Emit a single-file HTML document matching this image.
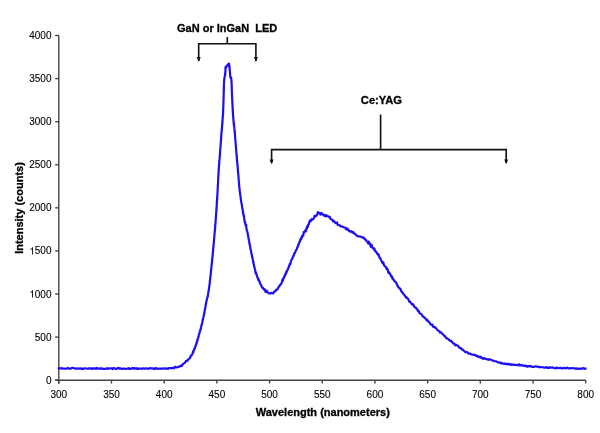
<!DOCTYPE html>
<html><head><meta charset="utf-8"><style>
html,body{margin:0;padding:0;background:#fff;}
body{width:600px;height:433px;overflow:hidden;}
svg{display:block;will-change:transform;}
text{font-family:"Liberation Sans",sans-serif;}
</style></head><body>
<svg width="600" height="433" viewBox="0 0 600 433">
<rect width="600" height="433" fill="#fff"/>
<g stroke="#444" stroke-width="1.4" fill="none">
<line x1="58.8" y1="35.5" x2="58.8" y2="383.5"/>
<line x1="55.2" y1="380.2" x2="585.7" y2="380.2"/>
<line x1="58.80" y1="380.20" x2="58.80" y2="383.5"/><line x1="111.49" y1="380.20" x2="111.49" y2="383.5"/><line x1="164.18" y1="380.20" x2="164.18" y2="383.5"/><line x1="216.87" y1="380.20" x2="216.87" y2="383.5"/><line x1="269.56" y1="380.20" x2="269.56" y2="383.5"/><line x1="322.25" y1="380.20" x2="322.25" y2="383.5"/><line x1="374.94" y1="380.20" x2="374.94" y2="383.5"/><line x1="427.63" y1="380.20" x2="427.63" y2="383.5"/><line x1="480.32" y1="380.20" x2="480.32" y2="383.5"/><line x1="533.01" y1="380.20" x2="533.01" y2="383.5"/><line x1="585.70" y1="380.20" x2="585.70" y2="383.5"/><line x1="55.2" y1="380.20" x2="58.80" y2="380.20"/><line x1="55.2" y1="337.11" x2="58.80" y2="337.11"/><line x1="55.2" y1="294.02" x2="58.80" y2="294.02"/><line x1="55.2" y1="250.94" x2="58.80" y2="250.94"/><line x1="55.2" y1="207.85" x2="58.80" y2="207.85"/><line x1="55.2" y1="164.76" x2="58.80" y2="164.76"/><line x1="55.2" y1="121.68" x2="58.80" y2="121.68"/><line x1="55.2" y1="78.59" x2="58.80" y2="78.59"/><line x1="55.2" y1="35.50" x2="58.80" y2="35.50"/>
</g>
<g font-size="10" fill="#000" stroke="#000" stroke-width="0.1">
<text transform="translate(58.80,397.8)" text-anchor="middle">300</text><text transform="translate(111.49,397.8)" text-anchor="middle">350</text><text transform="translate(164.18,397.8)" text-anchor="middle">400</text><text transform="translate(216.87,397.8)" text-anchor="middle">450</text><text transform="translate(269.56,397.8)" text-anchor="middle">500</text><text transform="translate(322.25,397.8)" text-anchor="middle">550</text><text transform="translate(374.94,397.8)" text-anchor="middle">600</text><text transform="translate(427.63,397.8)" text-anchor="middle">650</text><text transform="translate(480.32,397.8)" text-anchor="middle">700</text><text transform="translate(533.01,397.8)" text-anchor="middle">750</text><text transform="translate(585.70,397.8)" text-anchor="middle">800</text><text transform="translate(51.5,383.70)" text-anchor="end">0</text><text transform="translate(51.5,340.61)" text-anchor="end">500</text><text transform="translate(51.5,297.52)" text-anchor="end">000</text><path transform="translate(29.26,297.52) scale(0.004883,-0.004883)" d="M763 0H583V1147Q518 1085 412 1023Q307 961 223 930V1104Q374 1175 487 1276Q600 1377 647 1472H763Z" stroke="none"/><text transform="translate(51.5,254.44)" text-anchor="end">500</text><path transform="translate(29.26,254.44) scale(0.004883,-0.004883)" d="M763 0H583V1147Q518 1085 412 1023Q307 961 223 930V1104Q374 1175 487 1276Q600 1377 647 1472H763Z" stroke="none"/><text transform="translate(51.5,211.35)" text-anchor="end">2000</text><text transform="translate(51.5,168.26)" text-anchor="end">2500</text><text transform="translate(51.5,125.18)" text-anchor="end">3000</text><text transform="translate(51.5,82.09)" text-anchor="end">3500</text><text transform="translate(51.5,39.00)" text-anchor="end">4000</text>
</g>
<text x="322.8" y="415.9" text-anchor="middle" font-size="11" font-weight="bold" fill="#000" stroke="#000" stroke-width="0.3">Wavelength (nanometers)</text>
<text transform="translate(23,208) rotate(-90)" text-anchor="middle" font-size="11" font-weight="bold" fill="#000" stroke="#000" stroke-width="0.3">Intensity (counts)</text>
<path d="M58.70 368.40 L59.14 368.33 L59.64 368.56 L60.20 368.34 L60.82 368.32 L61.48 368.14 L62.19 368.35 L62.94 368.75 L63.73 368.55 L64.55 368.74 L65.40 368.51 L66.28 368.55 L67.18 368.49 L68.10 367.95 L69.03 368.70 L69.98 368.60 L70.93 368.61 L71.89 367.96 L72.84 367.95 L73.79 368.21 L74.74 368.34 L75.67 368.57 L76.58 368.47 L77.48 368.64 L78.35 368.30 L79.19 368.59 L80.00 368.62 L80.82 368.31 L81.64 369.02 L82.46 368.68 L83.27 368.87 L84.08 368.34 L84.89 368.31 L85.69 368.43 L86.50 368.50 L87.30 368.73 L88.09 368.62 L88.89 368.42 L89.68 368.27 L90.48 368.40 L91.27 368.93 L92.06 368.33 L92.85 368.64 L93.65 368.70 L94.44 368.14 L95.23 368.60 L96.02 368.97 L96.81 367.99 L97.61 368.50 L98.40 368.56 L99.20 368.36 L100.00 368.75 L100.80 368.58 L101.60 368.17 L102.40 368.85 L103.20 368.81 L104.00 368.89 L104.80 369.04 L105.60 368.72 L106.40 368.65 L107.20 368.23 L108.00 368.79 L108.80 368.43 L109.60 368.48 L110.40 368.24 L111.20 368.33 L112.00 368.45 L112.80 368.99 L113.60 368.01 L114.40 368.18 L115.20 368.68 L116.00 369.04 L116.80 368.78 L117.60 368.04 L118.40 367.86 L119.20 368.71 L120.00 368.38 L120.80 368.27 L121.60 368.89 L122.40 368.92 L123.20 368.64 L124.00 368.66 L124.80 368.71 L125.60 369.05 L126.40 368.76 L127.20 368.72 L128.00 368.73 L128.80 368.09 L129.60 368.93 L130.40 368.83 L131.20 368.70 L132.00 367.95 L132.80 368.34 L133.60 368.78 L134.40 367.99 L135.20 368.46 L136.00 368.82 L136.80 368.12 L137.60 368.99 L138.40 368.67 L139.20 368.46 L140.00 368.60 L140.81 368.69 L141.63 368.53 L142.47 368.84 L143.32 368.30 L144.17 368.38 L145.04 368.81 L145.90 368.51 L146.78 368.24 L147.65 368.79 L148.52 368.94 L149.39 368.38 L150.25 368.10 L151.10 368.47 L151.95 368.47 L152.78 368.43 L153.60 368.94 L154.40 368.21 L155.18 368.89 L155.95 368.14 L156.69 368.28 L157.41 368.70 L158.10 368.85 L158.77 368.77 L159.40 368.61 L160.00 368.54 L161.25 368.53 L162.38 368.64 L163.38 368.40 L164.28 368.51 L165.10 368.57 L165.86 368.37 L166.56 368.57 L167.23 368.48 L167.88 368.88 L168.53 368.34 L169.20 368.07 L170.21 368.02 L171.13 368.07 L171.97 368.28 L172.75 367.82 L173.50 367.95 L174.24 368.28 L175.00 366.83 L175.90 367.10 L176.79 367.33 L177.66 367.18 L178.49 366.91 L179.27 366.46 L180.00 366.50 L180.75 366.00 L181.40 365.31 L182.00 365.75 L182.61 364.58 L183.30 363.72 L183.95 363.37 L184.63 362.81 L185.34 362.32 L186.07 360.86 L186.79 360.95 L187.50 360.74 L188.04 359.43 L188.59 359.17 L189.15 358.85 L189.70 358.13 L190.24 357.64 L190.76 355.83 L191.25 355.58 L191.70 354.88 L192.16 354.44 L192.56 353.84 L192.93 351.71 L193.27 352.29 L193.60 350.55 L193.94 350.47 L194.30 348.75 L194.55 348.71 L194.80 348.44 L195.04 347.29 L195.28 346.75 L195.52 346.28 L195.77 345.30 L196.02 344.43 L196.30 344.22 L196.59 343.11 L196.90 341.58 L197.10 342.15 L197.30 339.94 L197.52 340.07 L197.74 338.87 L197.97 338.29 L198.20 337.75 L198.44 336.77 L198.68 336.13 L198.92 334.42 L199.16 333.60 L199.41 333.64 L199.65 332.13 L199.89 331.26 L200.13 330.22 L200.36 330.52 L200.58 329.46 L200.80 328.93 L200.99 327.14 L201.18 326.78 L201.37 325.51 L201.56 325.55 L201.75 325.12 L201.94 323.23 L202.13 323.50 L202.31 322.45 L202.50 321.12 L202.68 319.51 L202.86 320.21 L203.03 318.73 L203.21 317.69 L203.38 317.35 L203.55 316.56 L203.72 316.27 L203.88 314.35 L204.04 314.57 L204.20 313.98 L204.38 313.09 L204.56 311.44 L204.73 310.30 L204.90 310.24 L205.06 308.93 L205.23 308.07 L205.38 307.82 L205.54 306.16 L205.69 304.35 L205.84 304.43 L205.99 302.91 L206.13 303.39 L206.28 302.37 L206.42 301.16 L206.56 300.71 L206.70 300.41 L206.90 299.10 L207.08 298.92 L207.26 297.54 L207.43 297.45 L207.60 297.06 L207.77 296.49 L207.94 294.66 L208.12 294.64 L208.30 292.33 L208.49 291.60 L208.70 289.81 L208.78 290.76 L208.87 288.99 L208.96 288.96 L209.04 288.18 L209.14 287.56 L209.23 286.53 L209.33 286.19 L209.42 286.20 L209.52 284.50 L209.62 283.93 L209.72 283.33 L209.82 281.86 L209.92 280.44 L210.02 279.93 L210.12 279.90 L210.22 277.59 L210.32 277.26 L210.42 277.22 L210.52 276.23 L210.61 274.94 L210.71 274.49 L210.80 273.30 L210.89 271.73 L210.98 270.69 L211.07 270.38 L211.16 270.43 L211.24 268.86 L211.32 267.93 L211.40 267.28 L211.50 265.96 L211.59 265.86 L211.68 264.44 L211.76 264.47 L211.84 262.19 L211.92 262.90 L211.99 261.61 L212.07 260.16 L212.14 260.91 L212.21 259.63 L212.27 257.81 L212.34 257.84 L212.41 257.76 L212.48 256.59 L212.55 256.53 L212.62 255.73 L212.69 254.88 L212.77 253.86 L212.85 253.57 L212.93 252.29 L213.01 251.24 L213.10 248.81 L213.16 249.84 L213.22 249.38 L213.29 247.75 L213.35 246.93 L213.42 247.59 L213.49 244.71 L213.56 245.24 L213.63 245.60 L213.70 242.88 L213.77 243.03 L213.84 242.93 L213.91 240.95 L213.99 240.53 L214.06 239.92 L214.13 238.03 L214.21 237.68 L214.28 237.07 L214.35 236.54 L214.43 235.20 L214.50 234.26 L214.58 232.92 L214.65 232.47 L214.72 232.37 L214.79 231.06 L214.86 229.65 L214.93 228.82 L215.00 230.09 L215.07 228.35 L215.14 227.22 L215.21 224.44 L215.27 225.58 L215.34 224.69 L215.40 224.63 L215.46 223.05 L215.53 221.93 L215.59 221.48 L215.65 219.16 L215.71 220.18 L215.77 218.94 L215.83 217.50 L215.89 217.95 L215.95 217.45 L216.01 214.66 L216.07 214.32 L216.12 214.11 L216.18 213.24 L216.24 212.08 L216.29 210.92 L216.35 212.06 L216.41 210.58 L216.46 208.38 L216.51 207.48 L216.57 208.60 L216.62 207.34 L216.68 207.06 L216.73 205.61 L216.78 203.74 L216.84 203.64 L216.89 201.29 L216.94 201.36 L216.99 200.98 L217.04 200.53 L217.10 198.90 L217.15 198.46 L217.20 197.99 L217.25 197.15 L217.30 196.51 L217.34 195.42 L217.39 194.25 L217.44 194.14 L217.49 192.82 L217.53 191.40 L217.58 190.68 L217.62 190.23 L217.67 189.29 L217.71 188.60 L217.76 187.63 L217.80 186.88 L217.85 185.81 L217.89 184.20 L217.94 184.45 L217.98 184.00 L218.02 182.74 L218.07 181.47 L218.11 181.04 L218.15 179.26 L218.20 177.81 L218.24 178.29 L218.28 176.81 L218.32 177.12 L218.37 175.11 L218.41 173.29 L218.45 173.58 L218.49 174.59 L218.53 172.53 L218.58 171.14 L218.62 170.84 L218.66 171.02 L218.70 170.34 L218.77 169.08 L218.83 168.98 L218.89 167.52 L218.95 166.13 L219.01 165.69 L219.07 165.59 L219.13 164.33 L219.19 163.60 L219.25 161.41 L219.31 161.31 L219.37 161.19 L219.43 159.76 L219.48 159.98 L219.54 158.92 L219.61 158.39 L219.67 156.86 L219.73 157.99 L219.80 156.28 L219.86 154.44 L219.93 153.78 L220.00 154.61 L220.06 151.82 L220.11 151.91 L220.17 151.21 L220.24 149.73 L220.30 148.09 L220.36 148.21 L220.42 147.49 L220.49 147.18 L220.56 146.08 L220.62 144.68 L220.69 144.39 L220.76 143.30 L220.82 142.18 L220.89 141.20 L220.96 140.12 L221.02 139.91 L221.09 137.81 L221.16 137.26 L221.22 136.87 L221.28 134.99 L221.35 134.90 L221.41 132.97 L221.47 133.14 L221.53 133.27 L221.59 132.53 L221.65 131.36 L221.70 130.53 L221.78 128.68 L221.86 130.09 L221.93 128.26 L222.01 127.83 L222.08 125.59 L222.15 125.32 L222.22 123.37 L222.29 124.52 L222.36 123.91 L222.42 121.11 L222.49 121.72 L222.55 121.48 L222.61 118.96 L222.67 118.12 L222.73 117.85 L222.79 117.31 L222.84 115.83 L222.90 115.92 L222.94 115.38 L222.98 114.94 L223.01 114.23 L223.05 114.05 L223.09 113.00 L223.12 110.34 L223.16 110.11 L223.19 108.85 L223.23 107.98 L223.26 107.85 L223.29 107.05 L223.32 106.54 L223.36 104.11 L223.39 103.49 L223.42 103.53 L223.45 102.54 L223.48 101.60 L223.50 100.95 L223.53 99.60 L223.56 99.89 L223.58 98.84 L223.61 97.74 L223.63 96.55 L223.66 96.21 L223.68 93.59 L223.70 94.26 L223.73 93.95 L223.76 91.76 L223.78 92.09 L223.79 91.13 L223.80 89.10 L223.81 89.12 L223.82 88.27 L223.83 88.09 L223.84 87.45 L223.85 86.22 L223.87 84.88 L223.89 84.71 L223.92 84.07 L223.95 83.98 L224.00 82.93 L224.08 81.18 L224.17 79.76 L224.28 79.61 L224.40 78.44 L224.52 77.29 L224.65 77.23 L224.78 76.13 L224.90 75.81 L225.01 75.37 L225.11 73.90 L225.20 75.31 L225.29 72.27 L225.36 72.43 L225.42 70.74 L225.47 70.64 L225.51 67.08 L225.56 67.61 L225.62 67.74 L225.70 67.47 L226.09 67.85 L226.60 65.85 L227.31 65.65 L228.00 64.41 L228.45 63.99 L228.80 63.70 L228.97 63.70 L229.12 65.02 L229.27 64.71 L229.40 67.43 L229.49 66.42 L229.57 68.14 L229.64 70.38 L229.72 69.38 L229.80 70.52 L229.86 72.21 L229.93 72.25 L230.00 72.59 L230.07 74.41 L230.14 75.58 L230.22 76.47 L230.30 75.90 L230.64 78.11 L231.00 78.29 L231.09 77.53 L231.18 78.35 L231.27 78.54 L231.36 80.81 L231.45 80.14 L231.53 82.30 L231.60 82.63 L231.63 83.07 L231.66 84.78 L231.68 85.90 L231.70 85.53 L231.72 85.71 L231.74 87.56 L231.76 87.65 L231.78 88.70 L231.80 90.44 L231.82 90.98 L231.85 90.61 L231.88 93.67 L231.91 92.91 L231.95 94.53 L232.00 94.51 L232.03 95.62 L232.06 95.01 L232.09 98.40 L232.13 98.82 L232.16 97.63 L232.20 98.21 L232.24 98.93 L232.27 101.86 L232.31 101.47 L232.35 102.62 L232.40 103.30 L232.44 104.31 L232.48 104.46 L232.53 106.17 L232.57 105.95 L232.62 107.85 L232.66 109.00 L232.71 109.98 L232.76 110.30 L232.80 110.64 L232.85 112.25 L232.90 112.57 L232.95 114.87 L233.00 115.03 L233.05 115.11 L233.10 115.55 L233.17 116.35 L233.25 117.08 L233.32 118.38 L233.40 119.67 L233.48 120.63 L233.56 121.43 L233.64 123.29 L233.72 121.98 L233.81 123.23 L233.89 125.99 L233.98 123.34 L234.06 125.07 L234.15 126.35 L234.24 127.15 L234.33 128.18 L234.42 128.60 L234.51 129.97 L234.60 130.74 L234.66 131.95 L234.72 130.76 L234.79 132.23 L234.85 133.63 L234.92 133.67 L234.99 134.47 L235.05 136.48 L235.12 136.40 L235.19 138.16 L235.26 139.09 L235.33 139.64 L235.40 140.65 L235.47 141.09 L235.53 141.04 L235.60 142.89 L235.67 144.11 L235.74 144.29 L235.81 145.46 L235.88 146.91 L235.95 146.62 L236.01 148.53 L236.08 150.21 L236.15 149.33 L236.21 150.62 L236.28 151.19 L236.34 153.14 L236.40 153.02 L236.48 154.34 L236.55 154.12 L236.62 155.44 L236.69 156.28 L236.76 155.86 L236.83 158.87 L236.90 159.27 L236.96 158.20 L237.03 160.67 L237.09 160.82 L237.16 161.96 L237.22 162.66 L237.29 162.14 L237.36 163.80 L237.43 165.75 L237.50 165.15 L237.58 165.67 L237.65 166.30 L237.73 167.29 L237.81 169.27 L237.90 171.15 L237.96 170.99 L238.02 171.57 L238.08 173.64 L238.15 172.52 L238.21 173.17 L238.27 174.75 L238.33 175.54 L238.40 175.28 L238.46 175.97 L238.53 177.76 L238.59 178.54 L238.66 178.33 L238.72 179.89 L238.79 180.49 L238.86 181.99 L238.93 182.45 L239.01 183.31 L239.08 183.97 L239.15 185.74 L239.23 186.80 L239.31 186.48 L239.39 188.11 L239.47 187.89 L239.55 189.25 L239.64 190.51 L239.73 191.82 L239.82 191.39 L239.91 192.39 L240.00 193.35 L240.10 193.03 L240.21 194.84 L240.32 195.22 L240.43 196.72 L240.55 196.59 L240.67 196.88 L240.79 199.00 L240.92 199.97 L241.05 200.29 L241.18 202.03 L241.31 202.12 L241.44 202.73 L241.58 204.24 L241.72 203.76 L241.86 205.13 L242.00 206.36 L242.14 207.71 L242.28 207.87 L242.42 208.95 L242.56 209.13 L242.70 210.51 L242.84 212.13 L242.98 211.42 L243.12 214.07 L243.26 212.94 L243.40 214.08 L243.53 214.90 L243.67 216.14 L243.80 215.43 L243.98 215.81 L244.15 218.37 L244.33 219.35 L244.51 220.09 L244.69 222.15 L244.87 221.47 L245.05 222.29 L245.23 223.49 L245.41 223.91 L245.59 225.46 L245.77 224.46 L245.95 225.73 L246.13 224.62 L246.30 227.94 L246.48 227.97 L246.65 229.50 L246.83 230.99 L247.00 230.46 L247.17 231.08 L247.33 231.71 L247.50 232.30 L247.66 233.23 L247.83 234.80 L247.99 235.27 L248.15 236.12 L248.31 236.82 L248.47 238.31 L248.63 238.91 L248.79 239.38 L248.95 240.70 L249.10 241.07 L249.26 241.33 L249.41 243.68 L249.56 243.93 L249.71 243.92 L249.86 245.89 L250.00 246.26 L250.15 245.93 L250.29 248.50 L250.43 248.50 L250.57 249.53 L250.70 249.81 L250.89 250.59 L251.08 250.72 L251.26 253.02 L251.43 253.32 L251.59 253.94 L251.75 255.07 L251.91 255.67 L252.07 256.75 L252.23 256.90 L252.39 257.83 L252.56 257.41 L252.73 259.14 L252.91 260.54 L253.10 261.74 L253.27 261.55 L253.43 262.44 L253.60 264.16 L253.76 263.89 L253.93 265.25 L254.10 266.56 L254.27 266.46 L254.44 267.91 L254.62 267.65 L254.81 268.95 L255.00 269.59 L255.20 270.48 L255.41 271.81 L255.63 273.26 L255.86 272.39 L256.10 273.19 L256.37 274.57 L256.66 274.57 L256.96 276.22 L257.27 277.08 L257.59 277.46 L257.92 278.72 L258.25 278.44 L258.60 280.45 L258.94 280.04 L259.29 281.25 L259.64 282.07 L259.98 282.86 L260.33 284.19 L260.67 284.44 L261.00 284.80 L261.55 286.21 L262.11 287.58 L262.67 287.54 L263.24 288.43 L263.80 289.51 L264.36 289.61 L264.91 289.37 L265.46 291.78 L266.00 292.11 L266.79 290.66 L267.57 292.20 L268.34 292.88 L269.10 293.51 L269.86 293.61 L270.60 293.26 L271.48 292.87 L272.34 293.27 L273.19 293.41 L274.04 291.87 L274.90 291.28 L275.45 291.31 L276.00 289.79 L276.57 290.00 L277.12 289.23 L277.68 288.97 L278.21 287.66 L278.72 286.84 L279.20 286.40 L279.65 285.89 L280.07 284.89 L280.46 284.54 L280.84 284.22 L281.21 283.75 L281.57 283.31 L281.94 281.30 L282.30 280.78 L282.65 279.02 L282.99 280.65 L283.31 278.64 L283.63 278.35 L283.95 277.96 L284.30 276.23 L284.68 276.37 L285.10 275.19 L285.38 273.60 L285.68 274.06 L285.99 273.83 L286.32 271.46 L286.65 272.12 L287.00 271.02 L287.34 270.36 L287.69 269.53 L288.04 269.19 L288.39 267.55 L288.73 267.34 L289.07 265.85 L289.40 265.70 L289.72 264.08 L290.05 263.69 L290.37 263.91 L290.70 262.40 L291.02 261.27 L291.34 259.92 L291.66 259.33 L291.98 259.10 L292.29 258.75 L292.60 257.72 L292.90 257.05 L293.20 256.04 L293.50 256.16 L293.92 254.29 L294.33 253.38 L294.73 253.43 L295.12 252.23 L295.50 251.33 L295.89 250.45 L296.26 249.91 L296.63 249.66 L297.00 248.70 L297.32 247.04 L297.64 247.18 L297.94 246.22 L298.24 244.71 L298.54 244.90 L298.84 243.45 L299.15 242.58 L299.45 242.43 L299.77 241.94 L300.10 240.00 L300.48 239.83 L300.87 238.25 L301.27 239.33 L301.68 236.90 L302.09 237.13 L302.50 235.29 L302.90 235.42 L303.31 235.53 L303.70 231.99 L304.14 232.47 L304.58 232.28 L305.01 231.21 L305.44 230.16 L305.87 231.15 L306.29 229.21 L306.70 227.45 L307.10 228.22 L307.48 225.88 L307.84 226.79 L308.18 224.90 L308.52 224.49 L308.86 224.35 L309.22 222.86 L309.59 221.21 L310.00 220.36 L310.60 221.38 L311.25 220.48 L311.93 218.97 L312.61 219.49 L313.28 218.76 L313.90 218.30 L314.59 215.77 L315.25 216.22 L315.89 216.21 L316.50 215.43 L317.10 214.95 L317.99 212.09 L318.81 213.16 L319.80 213.21 L320.52 214.69 L321.32 212.91 L322.16 213.81 L323.03 214.57 L323.90 215.55 L324.64 215.00 L325.40 216.22 L326.17 215.24 L326.95 216.14 L327.73 215.96 L328.50 216.80 L329.16 216.74 L329.81 216.73 L330.47 219.00 L331.13 219.15 L331.79 219.27 L332.44 220.35 L333.10 221.41 L333.76 220.73 L334.41 221.77 L335.07 222.66 L335.73 223.14 L336.39 223.08 L337.04 222.46 L337.70 224.96 L338.49 224.93 L339.29 225.27 L340.10 225.62 L340.89 226.44 L341.63 226.46 L342.30 226.48 L343.10 227.02 L343.73 227.32 L344.39 227.52 L345.30 227.60 L345.89 228.99 L346.56 228.19 L347.28 229.77 L348.04 229.20 L348.82 230.47 L349.61 231.53 L350.37 231.29 L351.10 231.16 L351.80 232.06 L352.48 232.57 L353.15 231.90 L353.82 233.02 L354.49 233.93 L355.18 233.99 L355.88 234.74 L356.60 235.54 L357.36 235.93 L358.15 236.35 L358.97 236.49 L359.79 236.29 L360.61 236.77 L361.41 236.97 L362.18 237.31 L362.90 237.79 L363.66 237.39 L364.36 238.72 L365.03 239.44 L365.67 239.46 L366.32 240.62 L366.99 241.59 L367.70 241.90 L368.23 243.75 L368.78 241.60 L369.34 243.60 L369.91 243.30 L370.49 245.57 L371.06 247.19 L371.62 244.88 L372.17 247.04 L372.70 247.89 L373.20 248.03 L373.79 249.24 L374.34 248.33 L374.87 250.77 L375.38 251.17 L375.88 251.64 L376.38 251.99 L376.88 253.40 L377.40 253.53 L377.82 254.57 L378.24 254.82 L378.66 254.52 L379.08 256.47 L379.50 257.31 L379.92 258.33 L380.34 258.13 L380.76 259.31 L381.18 260.36 L381.60 260.78 L382.05 262.10 L382.49 263.19 L382.91 262.24 L383.33 262.33 L383.77 264.52 L384.22 265.58 L384.71 265.99 L385.23 266.74 L385.80 266.86 L386.17 267.40 L386.55 268.90 L386.95 268.57 L387.37 268.76 L387.79 269.90 L388.23 272.50 L388.67 272.92 L389.13 272.27 L389.59 273.00 L390.05 274.27 L390.52 274.51 L390.99 276.36 L391.46 276.38 L391.93 276.59 L392.40 278.59 L392.84 278.28 L393.29 279.40 L393.74 279.98 L394.19 280.53 L394.65 281.57 L395.12 281.75 L395.58 281.87 L396.05 282.40 L396.52 283.59 L396.99 284.56 L397.46 285.64 L397.93 286.37 L398.40 287.31 L398.87 287.76 L399.34 287.95 L399.80 288.64 L400.33 288.65 L400.86 290.35 L401.39 291.37 L401.91 292.08 L402.44 292.43 L402.97 293.08 L403.50 294.29 L404.03 294.49 L404.56 295.49 L405.09 296.06 L405.61 296.51 L406.14 297.68 L406.67 297.39 L407.20 298.12 L407.77 298.58 L408.34 299.24 L408.91 301.04 L409.48 301.78 L410.05 301.58 L410.62 302.47 L411.18 303.39 L411.75 303.84 L412.32 304.66 L412.89 304.10 L413.46 305.03 L414.03 306.18 L414.60 307.28 L415.16 307.28 L415.72 307.46 L416.27 308.33 L416.82 308.81 L417.36 309.35 L417.91 311.07 L418.46 310.71 L419.02 311.64 L419.59 313.27 L420.17 313.46 L420.76 313.72 L421.37 313.95 L422.00 315.09 L422.53 316.19 L423.06 316.30 L423.61 317.17 L424.17 317.22 L424.74 318.00 L425.31 318.27 L425.90 319.14 L426.48 320.13 L427.07 319.51 L427.66 320.71 L428.26 321.44 L428.85 321.67 L429.44 322.37 L430.03 323.42 L430.62 324.52 L431.20 324.47 L431.82 324.93 L432.45 324.70 L433.09 326.79 L433.72 326.57 L434.37 327.10 L435.01 327.20 L435.65 328.23 L436.29 328.34 L436.92 329.39 L437.54 330.11 L438.16 330.46 L438.77 331.10 L439.36 331.14 L439.94 332.60 L440.50 332.23 L441.18 332.35 L441.82 333.60 L442.45 333.93 L443.06 334.37 L443.65 335.17 L444.23 335.96 L444.81 335.87 L445.39 336.80 L445.97 337.94 L446.57 338.15 L447.17 338.32 L447.80 338.95 L448.45 339.38 L449.12 339.94 L449.80 340.78 L450.49 340.99 L451.19 340.61 L451.89 342.07 L452.58 342.25 L453.26 343.36 L453.93 343.37 L454.58 344.15 L455.20 345.39 L455.80 344.60 L456.55 345.13 L457.25 345.56 L457.93 345.70 L458.57 346.39 L459.20 347.71 L459.82 347.78 L460.44 347.76 L461.06 348.33 L461.70 349.53 L462.43 349.46 L463.16 350.04 L463.88 350.70 L464.61 351.46 L465.33 352.04 L466.05 352.07 L466.78 352.10 L467.50 352.47 L468.33 353.44 L469.15 353.69 L469.98 353.43 L470.81 354.06 L471.64 354.35 L472.47 354.60 L473.30 354.72 L474.14 354.74 L474.98 355.30 L475.83 355.22 L476.67 356.45 L477.52 356.47 L478.36 356.12 L479.20 357.28 L480.03 357.37 L480.86 356.67 L481.69 358.23 L482.52 358.13 L483.35 358.81 L484.17 357.94 L485.00 358.78 L485.83 358.97 L486.65 359.12 L487.48 359.32 L488.31 359.82 L489.14 359.17 L489.97 359.47 L490.80 359.63 L491.64 360.14 L492.48 360.35 L493.33 360.90 L494.17 361.10 L495.02 361.25 L495.86 361.25 L496.70 361.56 L497.53 362.25 L498.36 362.43 L499.19 362.46 L500.02 362.56 L500.85 363.39 L501.67 362.92 L502.50 363.51 L503.33 363.84 L504.15 363.53 L504.98 364.01 L505.81 363.52 L506.64 364.31 L507.47 364.16 L508.30 363.70 L509.14 364.52 L509.98 364.12 L510.83 364.89 L511.67 364.36 L512.52 364.60 L513.36 364.82 L514.20 364.70 L515.02 364.95 L515.81 364.74 L516.60 365.18 L517.40 365.01 L518.22 365.13 L519.08 364.26 L520.00 365.56 L520.73 365.28 L521.46 364.79 L522.19 365.46 L522.94 365.66 L523.73 365.93 L524.57 365.36 L525.46 366.27 L526.44 365.85 L527.50 366.74 L528.19 366.02 L528.92 366.34 L529.68 366.09 L530.47 365.94 L531.30 366.70 L532.14 366.72 L533.00 366.99 L533.88 366.86 L534.76 366.50 L535.65 366.24 L536.54 366.63 L537.42 366.69 L538.29 366.72 L539.16 367.21 L540.00 367.20 L540.83 367.08 L541.67 367.27 L542.50 367.23 L543.33 367.39 L544.17 367.61 L545.00 367.72 L545.83 367.27 L546.67 367.07 L547.50 368.00 L548.33 367.65 L549.17 367.99 L550.00 367.20 L550.83 367.63 L551.67 367.77 L552.50 367.37 L553.32 367.68 L554.10 368.08 L554.87 368.21 L555.62 368.38 L556.37 367.67 L557.11 367.52 L557.86 368.12 L558.63 368.26 L559.42 368.05 L560.23 367.62 L561.09 368.26 L561.98 368.28 L562.93 368.22 L563.93 367.93 L565.00 368.19 L565.69 368.35 L566.43 367.96 L567.23 367.59 L568.06 368.26 L568.93 368.32 L569.83 368.20 L570.76 368.48 L571.71 368.06 L572.67 368.23 L573.65 368.18 L574.62 368.46 L575.60 368.79 L576.56 368.25 L577.52 368.96 L578.45 368.82 L579.37 368.62 L580.25 368.57 L581.10 368.94 L581.91 368.38 L582.67 368.41 L583.38 368.14 L584.03 368.61 L584.63 368.88 L585.15 368.65 L585.60 368.50" fill="none" stroke="#1e0ef4" stroke-width="2.2" stroke-linejoin="round" stroke-linecap="round"/>
<g stroke="#111" stroke-width="1.6" fill="none">
<path d="M227.3 36.9 V43.8 M198.7 61 V43.8 H255.9 V61"/>
<path d="M380.6 114.5 V149.6 M271.6 163 V149.6 H506.2 V163"/>
</g>
<g fill="#111">
<path d="M196.7 57 L200.7 57 L198.7 62 Z"/>
<path d="M253.9 57 L257.9 57 L255.9 62 Z"/>
<path d="M269.6 159.5 L273.6 159.5 L271.6 164.3 Z"/>
<path d="M504.2 159.5 L508.2 159.5 L506.2 164.3 Z"/>
</g>
<text x="177" y="31.9" font-size="11" font-weight="bold" fill="#000" stroke="#000" stroke-width="0.3" xml:space="preserve">GaN or InGaN  LED</text>
<text x="360.8" y="104.3" font-size="11.2" font-weight="bold" fill="#000" stroke="#000" stroke-width="0.3">Ce:YAG</text>
</svg>
</body></html>
